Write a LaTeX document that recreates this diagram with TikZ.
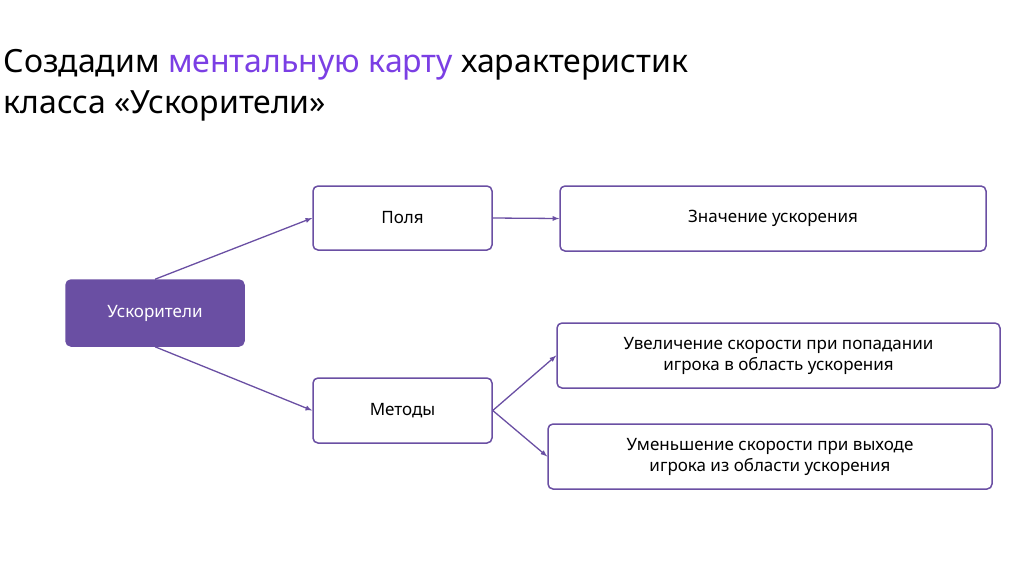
\documentclass[tikz,border=0pt]{standalone}
\usepackage{fontspec}
\setmainfont{Noto Sans}
\definecolor{pur}{HTML}{6A4FA3}
\definecolor{tit}{HTML}{7B3FE4}
\begin{document}
\begin{tikzpicture}[x=1pt,y=-1pt,
  bx/.style={draw=pur,line width=1.5pt,rounded corners=5pt,fill=white,align=center,font=\fontsize{17}{21}\selectfont,inner sep=0pt},
  ar/.style={draw=pur,line width=1.3pt,-latex}]
\useasboundingbox (0,0) rectangle (1024,574);
\node[anchor=west,font=\fontsize{32}{40}\selectfont\bfseries] (t1) at (0,65) {Создадим \textcolor{tit}{ментальную карту} характеристик};
\node[anchor=west,font=\fontsize{32}{40}\selectfont\bfseries] (t2) at (0,106) {класса «Ускорители»};
\node[bx,fill=pur,draw=pur,text=white,minimum width=178pt,minimum height=66pt] (u) at (155,313) {Ускорители};
\node[bx,minimum width=179pt,minimum height=64pt] (p) at (402.5,218) {Поля};
\node[bx,minimum width=426pt,minimum height=65pt] (z) at (773,218.5) {Значение ускорения};
\node[bx,minimum width=179pt,minimum height=65pt] (m) at (402.5,410.5) {Методы};
\node[bx,minimum width=443pt,minimum height=65pt] (a) at (778.5,355.5) {Увеличение скорости при попадании\\игрока в область ускорения};
\node[bx,minimum width=444pt,minimum height=65pt] (b) at (770,456.5) {Уменьшение скорости при выходе\\игрока из области ускорения};
\draw[ar] (u.north) -- (p.west);
\draw[ar] (u.south) -- (m.west);
\draw[ar] (p.east) -- (z.west);
\draw[ar] (m.east) -- (a.west);
\draw[ar] (m.east) -- (b.west);
\end{tikzpicture}
\end{document}
